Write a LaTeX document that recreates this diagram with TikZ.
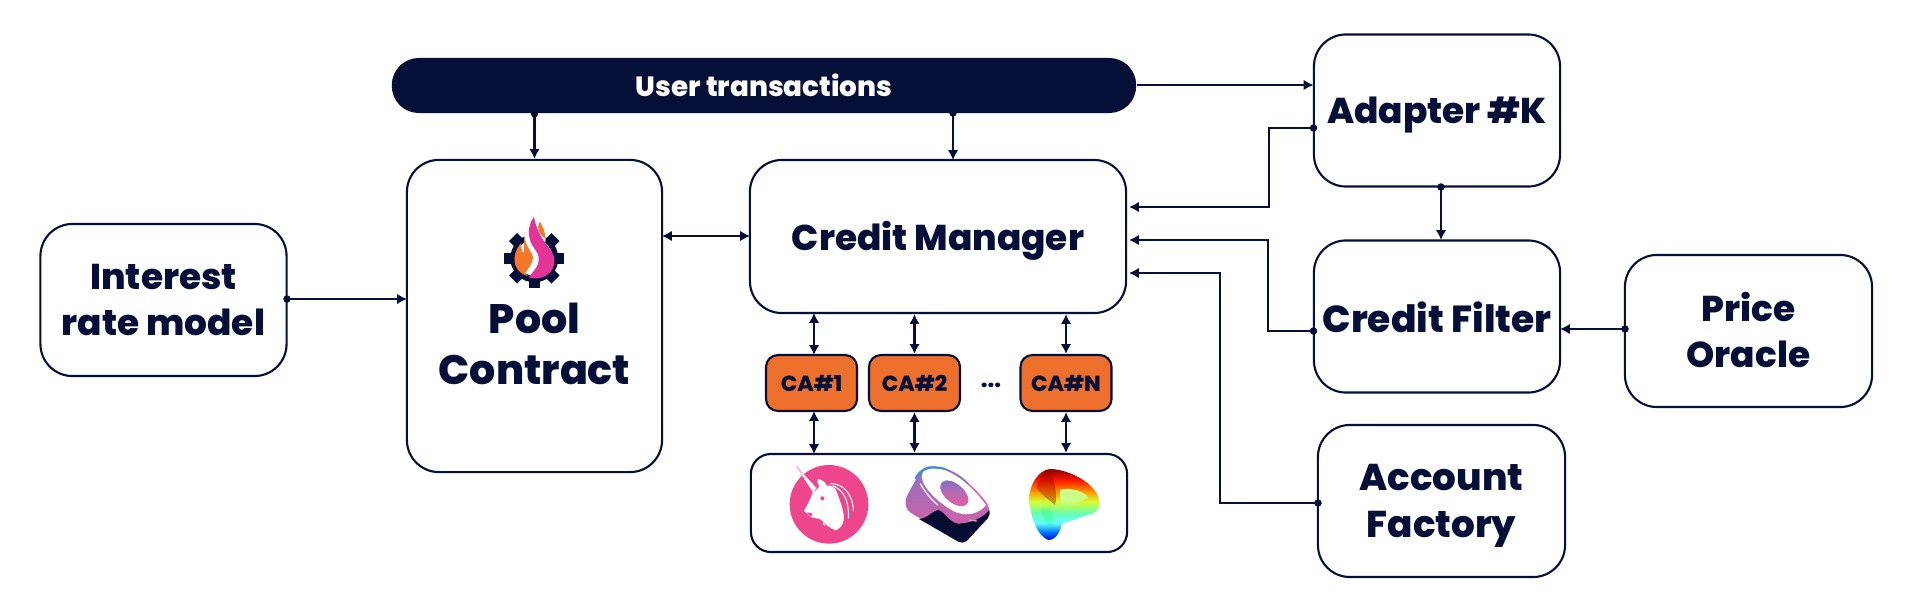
\documentclass[tikz,border=0pt]{standalone}
\usepackage{fontspec}
\setmainfont{Poppins}[BoldFont={Poppins ExtraBold}]
\usepackage{tikz}
\usetikzlibrary{arrows.meta}
\definecolor{navy}{RGB}{6,15,56}
\definecolor{caorange}{RGB}{238,112,45}
\definecolor{unipink}{RGB}{238,70,140}
\definecolor{flamepink}{RGB}{228,52,152}
\definecolor{flameorange}{RGB}{243,120,42}
\definecolor{sushitop}{RGB}{135,115,195}
\definecolor{sushilow}{RGB}{232,92,160}
\pgfdeclareverticalshading{rainbowfill}{100bp}{color(0bp)=(blue!90!black); color(25bp)=(blue!90!black); color(31bp)=(blue!50!cyan); color(37bp)=(cyan!60); color(44bp)=(green!50!cyan!60); color(52bp)=(yellow!80!green!80); color(59bp)=(orange!80!yellow); color(67bp)=(red!80!orange); color(75bp)=(red!55!black); color(100bp)=(red!55!black)}
\tikzset{
  box/.style={draw=navy,line width=0.6pt,fill=white,rounded corners=0.32cm},
  boxtxt/.style={align=center,text=navy,font=\fontsize{10.2}{13}\selectfont\bfseries},
  cabox/.style={draw=navy,line width=0.6pt,fill=caorange,rounded corners=0.12cm,text=navy,
    minimum width=0.91cm,minimum height=0.56cm,inner sep=0pt,font=\fontsize{6.2}{8}\selectfont\bfseries},
  bar/.style={fill=navy,rounded corners=0.27cm,text=white,inner sep=0pt,
    minimum width=7.44cm,minimum height=0.55cm,font=\fontsize{7.9}{9}\selectfont\bfseries},
  wire/.style={navy,line width=0.6pt},
  oneway/.style={wire,-{Latex[length=2.8pt,width=3pt]}},
  twoway/.style={wire,{Latex[length=2.8pt,width=3pt]}-{Latex[length=2.8pt,width=3pt]}},
  dot/.style={circle,fill=navy,inner sep=0pt,minimum size=0.075cm},
}
\begin{document}
\begin{tikzpicture}[x=0.01cm,y=-0.01cm]
  \useasboundingbox (0,0) rectangle (1920,600);
  % top bar
  \node[bar] (users) at (764,85.5) {User transactions};
  % boxes
  \node[box,minimum width=2.46cm,minimum height=1.52cm] (rate) at (163.5,300) {};
  \node[box,minimum width=2.55cm,minimum height=3.12cm] (pool) at (534.5,316) {};
  \node[box,minimum width=3.76cm,minimum height=1.53cm] (manager) at (938,236.5) {};
  \node[box,minimum width=2.46cm,minimum height=1.52cm] (adapter) at (1437,110.5) {};
  \node[box,minimum width=2.46cm,minimum height=1.52cm] (filter) at (1437,316.5) {};
  \node[box,minimum width=2.47cm,minimum height=1.52cm] (oracle) at (1748.5,331) {};
  \node[box,minimum width=2.47cm,minimum height=1.52cm] (factory) at (1441.5,501) {};
  % box labels
  \node[boxtxt] (ratetxt) at (163.5,300) {Interest\\rate model};
  \node[boxtxt,font=\fontsize{11.7}{14.6}\selectfont\bfseries] (pooltxt) at (534.5,344) {Pool\\Contract};
  \node[boxtxt] (managertxt) at (938,241) {Credit Manager};
  \node[boxtxt] (adaptertxt) at (1437,115) {Adapter \#K};
  \node[boxtxt,font=\fontsize{10.7}{13}\selectfont\bfseries] (filtertxt) at (1437,317) {Credit Filter};
  \node[boxtxt] (oracletxt) at (1748.5,330) {Price\\Oracle};
  \node[boxtxt,font=\fontsize{10.6}{13.4}\selectfont\bfseries] (factorytxt) at (1441.5,506) {Account\\Factory};
  % credit accounts
  \node[cabox] (caone) at (811.5,383) {CA\#1};
  \node[cabox] (catwo) at (914.5,383) {CA\#2};
  \node[cabox] (can) at (1066,383) {CA\#N};
  \node[text=navy,font=\fontsize{6.4}{8}\selectfont\bfseries] (cadots) at (991,385) {...};
  \node[draw=navy,line width=0.6pt,fill=white,rounded corners=0.2cm,minimum width=3.76cm,minimum height=0.98cm] (dexes) at (939,503) {};
  % anchors on the box edges
  \coordinate (mgrtop) at (953,160);
  \coordinate (bartop) at (953,113);
  \coordinate (mgra) at (1129,207);
  \coordinate (mgrb) at (1129,240);
  \coordinate (mgrc) at (1129,273);
  \coordinate (adaptout) at (1313.5,128);
  \coordinate (filterout) at (1313.5,331);
  \coordinate (factoryout) at (1318,503);
  \coordinate (adaptin) at (1313.5,85);
  \coordinate (adaptlow) at (1441,187);
  \coordinate (filtertop) at (1441,240);
  \coordinate (filterin) at (1560,329);
  \coordinate (oracleout) at (1625,329);
  \coordinate (ratein) at (407,299);
  \coordinate (rateout) at (287,299);
  \coordinate (poolside) at (662,236);
  \coordinate (mgrside) at (750,236);
  \coordinate (mgrlow) at (814,313);
  \coordinate (dexlow) at (814,454);
  \coordinate (catop) at (814,355);
  \coordinate (calow) at (814,411);
  % connectors
  \draw[oneway] (users.east |- adaptin) -- (adaptin);
  \draw[oneway] (users.south -| pool.north) -- (pool.north);
  \draw[oneway] (bartop) -- (mgrtop);
  \draw[oneway] (rateout) -- (ratein);
  \draw[twoway] (poolside) -- (mgrside);
  \draw[oneway] (adaptout) -- (1269,128) -- (1269,207) -- (mgra);
  \draw[oneway] (filterout) -- (1268,331) -- (1268,240) -- (mgrb);
  \draw[oneway] (factoryout) -- (1220,503) -- (1220,273) -- (mgrc);
  \draw[oneway] (adaptlow) -- (filtertop);
  \draw[oneway] (oracleout) -- (filterin);
  \draw[twoway] (catop) -- (mgrlow);
  \draw[twoway] (catwo.north) -- (manager.south -| catwo.north);
  \draw[twoway] (can.north) -- (manager.south -| can.north);
  \draw[twoway] (calow) -- (dexlow);
  \draw[twoway] (catwo.south) -- (dexes.north -| catwo.south);
  \draw[twoway] (can.south) -- (dexes.north -| can.south);
  \node[dot] (dotpool) at (users.south -| pool.north) {};
  \node[dot] (dotmgr) at (bartop) {};
  \node[dot] (dotrate) at (rateout) {};
  \node[dot] (dotadapt) at (adaptout) {};
  \node[dot] (dotfilter) at (filterout) {};
  \node[dot] (dotfactory) at (factoryout) {};
  \node[dot] (dotlow) at (adaptlow) {};
  \node[dot] (dotoracle) at (oracleout) {};
  % gear and flame
  \begin{scope}[shift={(470,190)},scale=0.3333]
    \fill[navy] (193,205) circle (72);
    \foreach \a in {45,90,...,315}
      \fill[navy,rotate around={\a:(193,205)}] (176,115) rectangle (210,150);
    \fill[white] (193,203) circle (54);
    \fill[white] (160,110) -- (230,110) -- (225,165) -- (165,165) -- cycle;
    \fill[flameorange] (165,125) .. controls (160,150) and (172,170) .. (185,190) .. controls (195,205) and (185,225) .. (165,248) .. controls (172,255) and (172,258) .. (172,258) .. controls (145,250) and (128,225) .. (135,195) .. controls (138,180) and (145,170) .. (152,160) .. controls (154,175) and (156,185) .. (160,190) .. controls (165,170) and (160,145) .. (165,125);
    \fill[flamepink] (192,80) .. controls (170,110) and (172,150) .. (195,178) .. controls (220,210) and (200,235) .. (175,262) .. controls (215,275) and (258,250) .. (253,205) .. controls (250,175) and (205,155) .. (192,80);
    \fill[flameorange] (210,95) .. controls (198,115) and (205,130) .. (226,146) .. controls (226,125) and (218,110) .. (210,95);
  \end{scope}
  % uniswap
  \begin{scope}[shift={(780,455)},scale=0.3333]
    \fill[unipink] (147,148) circle (118);
    \filldraw[fill=white,draw=unipink!50,line width=0.15pt] (48,32) -- (110,100) -- (99,112) -- cycle;
    \fill[white] (98,112) .. controls (108,108) and (116,100) .. (118,92) .. controls (112,84) and (110,76) .. (114,72) .. controls (128,74) and (136,82) .. (140,92) .. controls (155,88) and (168,100) .. (172,115) .. controls (180,140) and (190,160) .. (192,190) .. controls (190,210) and (180,220) .. (168,226) .. controls (155,222) and (140,212) .. (130,200) .. controls (122,188) and (100,190) .. (90,186) .. controls (85,180) and (80,172) .. (72,168) .. controls (82,150) and (92,132) .. (98,112);
    \fill[unipink] (127,130) circle (6);
    \fill[unipink] (80,172) -- (98,176) -- (92,186) -- cycle;
    \draw[white,line width=0.3pt] (150,86) .. controls (190,84) and (220,120) .. (220,168);
    \draw[white,line width=0.3pt] (158,92) .. controls (190,105) and (208,135) .. (205,190);
    \draw[white,line width=0.3pt] (160,212) .. controls (145,195) and (120,200) .. (135,212);
  \end{scope}
  % sushi
  \begin{scope}[shift={(895,455)},scale=0.3333]
    \shade[top color=sushitop,bottom color=sushilow] (75,50) .. controls (90,30) and (120,30) .. (150,42) .. controls (200,62) and (250,110) .. (280,155) .. controls (286,170) and (284,180) .. (278,190) -- (215,258) .. controls (208,264) and (198,264) .. (190,260) -- (45,172) .. controls (30,160) and (28,140) .. (35,125) -- cycle;
    \fill[navy!90!black] (72,192) .. controls (100,190) and (115,165) .. (130,165) .. controls (150,170) and (170,215) .. (200,205) .. controls (220,205) and (265,190) .. (283,165) .. controls (286,172) and (284,182) .. (278,190) -- (215,258) .. controls (208,264) and (198,264) .. (190,260) -- cycle;
    \fill[white] (82,55) .. controls (90,35) and (120,35) .. (150,45) .. controls (200,65) and (245,110) .. (273,150) .. controls (255,175) and (210,190) .. (170,165) .. controls (125,140) and (70,85) .. (82,55);
    \shade[top color=sushitop,bottom color=sushilow,rotate around={-40:(178,115)}] (178,115) ellipse (50 and 28);
    \draw[cyan!60!blue!80,line width=0.6pt,line cap=round] (62,70) .. controls (75,42) and (105,30) .. (150,42);
    \draw[sushitop,line width=0.5pt] (150,42) .. controls (185,56) and (200,68) .. (218,85);
    \draw[sushilow,line width=0.4pt] (218,85) .. controls (240,105) and (260,125) .. (278,152);
    \draw[white,line width=0.35pt] (76,86) .. controls (90,110) and (105,130) .. (128,150);
    \draw[black!30,line width=0.4pt] (222,195) -- (245,198);
  \end{scope}
  % curve
  \begin{scope}[shift={(1010,455)},scale=0.3333]
    \shade[shading=rainbowfill] (120,42) .. controls (170,42) and (255,80) .. (268,135) .. controls (270,150) and (265,165) .. (258,170) .. controls (230,185) and (180,195) .. (155,208) .. controls (152,225) and (140,255) .. (115,255) .. controls (85,245) and (60,190) .. (58,130) .. controls (58,90) and (85,45) .. (120,42);
    \fill[green!35!cyan!35!yellow!60!white] (150,105) .. controls (180,95) and (225,110) .. (235,128) .. controls (210,142) and (170,148) .. (152,148) -- cycle;
    \fill[red!60!black,opacity=0.4] (120,42) .. controls (100,50) and (85,70) .. (80,100) .. controls (100,125) and (125,140) .. (135,150) .. controls (145,120) and (130,70) .. (120,42);
    \fill[green!60!cyan,opacity=0.25] (92,160) .. controls (120,150) and (135,180) .. (130,215) .. controls (115,215) and (95,195) .. (92,160);
  \end{scope}
\end{tikzpicture}
\end{document}
